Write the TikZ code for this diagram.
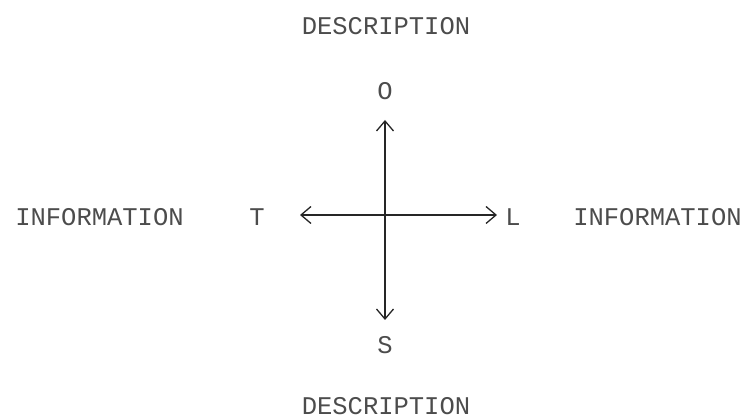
\documentclass[tikz,border=0pt]{standalone}
\usepackage{fontspec}
\setmonofont{Liberation Mono}
\usetikzlibrary{arrows.meta}
\begin{document}
\begin{tikzpicture}[x=1pt,y=1pt,
  lbl/.style={font=\ttfamily\fontsize{25.5}{26}\selectfont, text=black!70, inner sep=0pt, anchor=center},
  axis/.style={line width=1.3pt, draw=black!85, -{Straight Barb[length=10pt,width=17pt,line width=1.3pt]}}]
\useasboundingbox (0,0) rectangle (745,420);
\node[lbl] (descT) at (386,394) {DESCRIPTION};
\node[lbl] (descB) at (386,13.5) {DESCRIPTION};
\node[lbl] (O) at (385,329) {O};
\node[lbl] (S) at (385,75) {S};
\node[lbl] (T) at (257,203) {T};
\node[lbl] (L) at (513,203) {L};
\node[lbl] (infoL) at (99.5,202.5) {INFORMATION};
\node[lbl] (infoR) at (657.5,202.5) {INFORMATION};
\coordinate (c) at (385,205);
\coordinate (tipN) at (385,300);
\coordinate (tipS) at (385,100);
\coordinate (tipW) at (300,205);
\coordinate (tipE) at (497,205);
\draw[axis] (c) -- (tipN);
\draw[axis] (c) -- (tipS);
\draw[axis] (c) -- (tipW);
\draw[axis] (c) -- (tipE);
\end{tikzpicture}
\end{document}
